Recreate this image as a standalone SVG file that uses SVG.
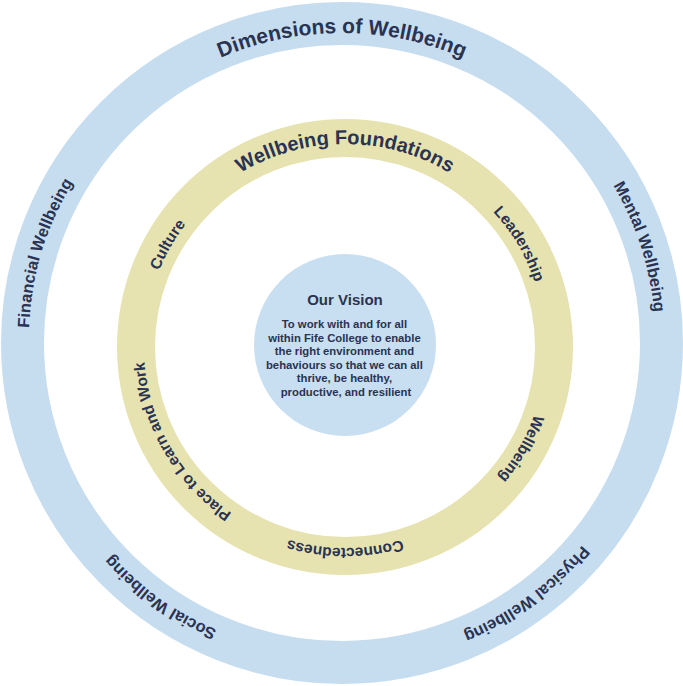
<svg xmlns="http://www.w3.org/2000/svg" xmlns:xlink="http://www.w3.org/1999/xlink" width="683" height="686" viewBox="0 0 683 686">
  <style>
    .ring-blue { fill: none; stroke: #c6ddf0; }
    .ring-yellow { fill: none; stroke: #e6e3b0; }
    .disc { fill: #c8def1; }
    text { font-family: "Liberation Sans", Arial, sans-serif; font-weight: bold; fill: #2a3352; }
    .title-outer { font-size: 21px; }
    .title-inner { font-size: 20px; }
    .dim { font-size: 16.5px; }
    .found { font-size: 15.5px; }
    .vision-head { font-size: 15px; }
    .vision-body { font-size: 11.3px; }
  </style>
  <defs>
    <!-- Clockwise circles, each starting opposite its label so 50% lands on the label centre -->
    <path id="p-dim" d="M342,653 A310,310 0 0 1 342,33 A310,310 0 0 1 342,653"/>
    <path id="p-fin" d="M642.6,433.7 A314,314 0 0 1 41.4,252.3 A314,314 0 0 1 642.6,433.7"/>
    <path id="p-men" d="M43.2,439.5 A314,314 0 0 1 640.8,246.5 A314,314 0 0 1 43.2,439.5"/>
    <path id="p-soc" d="M524.3,87.4 A314,314 0 0 1 159.7,598.6 A314,314 0 0 1 524.3,87.4"/>
    <path id="p-phy" d="M156.1,89.9 A314,314 0 0 1 527.9,596.1 A314,314 0 0 1 156.1,89.9"/>
    <path id="p-fnd" d="M345,550 A203,203 0 0 1 345,144 A203,203 0 0 1 345,550"/>
    <path id="p-cul" d="M519.1,447.5 A201,201 0 0 1 170.9,246.5 A201,201 0 0 1 519.1,447.5"/>
    <path id="p-lead" d="M172,449.3 A201,201 0 0 1 518,244.7 A201,201 0 0 1 172,449.3"/>
    <path id="p-well" d="M170.9,246.5 A201,201 0 0 1 519.1,447.5 A201,201 0 0 1 170.9,246.5"/>
    <path id="p-con" d="M345,146 A201,201 0 0 1 345,548 A201,201 0 0 1 345,146"/>
    <path id="p-place" d="M519.1,246.5 A201,201 0 0 1 170.9,447.5 A201,201 0 0 1 519.1,246.5"/>
  </defs>

  <g id="dimensions-ring">
    <circle class="ring-blue" cx="342" cy="343" r="319.5" stroke-width="43"/>
    <text class="title-outer" text-anchor="middle"><textPath xlink:href="#p-dim" href="#p-dim" startOffset="50%">Dimensions of Wellbeing</textPath></text>
    <text class="dim" text-anchor="middle"><textPath xlink:href="#p-fin" href="#p-fin" startOffset="50%">Financial Wellbeing</textPath></text>
    <text class="dim" text-anchor="middle"><textPath xlink:href="#p-men" href="#p-men" startOffset="50%">Mental Wellbeing</textPath></text>
    <text class="dim" text-anchor="middle"><textPath xlink:href="#p-soc" href="#p-soc" startOffset="50%">Social Wellbeing</textPath></text>
    <text class="dim" text-anchor="middle"><textPath xlink:href="#p-phy" href="#p-phy" startOffset="50%">Physical Wellbeing</textPath></text>
  </g>

  <g id="foundations-ring">
    <circle class="ring-yellow" cx="345" cy="347" r="209" stroke-width="38"/>
    <text class="title-inner" text-anchor="middle"><textPath xlink:href="#p-fnd" href="#p-fnd" startOffset="50%">Wellbeing Foundations</textPath></text>
    <text class="found" text-anchor="middle"><textPath xlink:href="#p-cul" href="#p-cul" startOffset="50%">Culture</textPath></text>
    <text class="found" text-anchor="middle"><textPath xlink:href="#p-lead" href="#p-lead" startOffset="50%">Leadership</textPath></text>
    <text class="found" text-anchor="middle"><textPath xlink:href="#p-well" href="#p-well" startOffset="50%">Wellbeing</textPath></text>
    <text class="found" text-anchor="middle"><textPath xlink:href="#p-con" href="#p-con" startOffset="50%">Connectedness</textPath></text>
    <text class="found" text-anchor="middle"><textPath xlink:href="#p-place" href="#p-place" startOffset="50%">Place to Learn and Work</textPath></text>
  </g>

  <g id="vision">
    <circle class="disc" cx="345" cy="345" r="91"/>
    <text class="vision-head" x="345" y="305" text-anchor="middle">Our Vision</text>
    <text class="vision-body" text-anchor="middle">
      <tspan x="346" y="328">To work with and for all</tspan>
      <tspan x="346" y="341.5">within Fife College to enable</tspan>
      <tspan x="346" y="355">the right environment and</tspan>
      <tspan x="346" y="368.5">behaviours so that we can all</tspan>
      <tspan x="346" y="382">thrive, be healthy,</tspan>
      <tspan x="346" y="395.5">productive, and resilient</tspan>
    </text>
  </g>
</svg>
